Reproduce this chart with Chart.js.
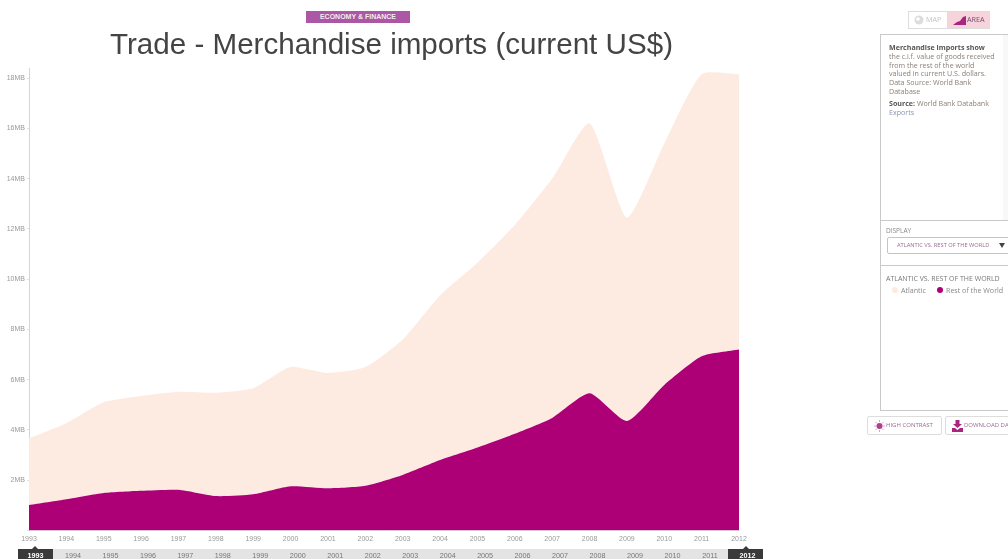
<!DOCTYPE html>
<html>
<head>
<meta charset="utf-8">
<title>Trade - Merchandise imports</title>
<script src="https://cdn.jsdelivr.net/npm/chart.js@4"></script>
<style>
html, body { margin: 0; padding: 0; background: #fff; overflow: hidden; }
body { width: 1008px; height: 559px; position: relative; font-family: "Open Sans", sans-serif; color: #777; }
canvas { position: absolute; left: 0; top: 0; }
.abs { position: absolute; white-space: nowrap; }
#tag { left: 306px; top: 11px; width: 104px; height: 12px; line-height: 12px; background: #ab57a5; color: #eee; font: bold 7px/12px "Liberation Sans", sans-serif; text-align: center; }
#title { left: 0; top: 24px; width: 783px; text-align: center; font: 29.6px/40px "Liberation Sans", sans-serif; color: #444; margin: 0; }
#toggle { left: 908px; top: 11px; width: 82px; height: 18px; border: 1px solid #ddd; box-sizing: border-box; font-size: 7.2px; line-height: 15px; }
#toggle .map { position: absolute; left: 0; top: 0; width: 38px; height: 16px; color: #c4c4c4; }
#toggle .area { position: absolute; left: 38px; top: 0; width: 42px; height: 16px; background: #f7d3dc; color: #7a4a70; border-left: 1px solid #ddd; box-sizing: border-box; }
#toggle svg { position: absolute; left: 5px; top: 3px; }
#toggle span { position: absolute; left: 17px; top: 0; }
#toggle .area span { left: 19px; }
#panel { left: 880px; top: 34px; width: 140px; height: 377px; border: 1px solid #c9c9c9; box-sizing: border-box; }
#desc { left: 889px; top: 43px; width: 108px; white-space: normal; font-size: 7.1px; line-height: 8.8px; color: #8a8078; }
#desc b { color: #555; }
#desc p { margin: 0 0 3px 0; }
#desc a { color: #8a93b5; text-decoration: none; }
#scroll { left: 1003px; top: 35px; width: 5px; height: 185px; background: #f8f8f8; }
.rule { left: 881px; width: 127px; height: 1px; background: #c9c9c9; }
#displayLabel { left: 886px; top: 226px; font-size: 6.5px; color: #888; }
#select { left: 887px; top: 237px; width: 130px; height: 17px; border: 1px solid #c4c4c4; border-radius: 2px; box-sizing: border-box; font-size: 5.7px; line-height: 15px; padding-left: 9px; color: #9a6a95; }
#arrow { left: 999px; top: 243px; width: 0; height: 0; border-left: 3px solid transparent; border-right: 3px solid transparent; border-top: 5px solid #444; }
#legendTitle { left: 886px; top: 274px; font-size: 7px; color: #777; }
.legItem { top: 285px; font-size: 7.1px; color: #888; }
.dot { position: absolute; width: 6px; height: 6px; border-radius: 50%; }
.btn { top: 416px; height: 19px; border: 1px solid #ddd; border-radius: 2px; box-sizing: border-box; font-size: 6px; line-height: 17px; color: #9a6a95; overflow: hidden; }
.btn svg { position: absolute; left: 6px; top: 3px; }
.btn span { position: absolute; left: 18px; top: 0; }
#strip { left: 18px; top: 549px; width: 745px; height: 10px; background: #e4e4e4; }
.handle { top: 549px; width: 35px; height: 10px; background: #3a3a3a; }
.stripYear { top: 551px; width: 30px; text-align: center; font: 7.2px/10px "Liberation Sans", sans-serif; color: #777; }
.stripYear.on { color: #fff; font-weight: bold; }
.notch { top: 546px; width: 0; height: 0; border-left: 3px solid transparent; border-right: 3px solid transparent; border-bottom: 3px solid #3a3a3a; }
</style>
</head>
<body>
<canvas id="tradeChart" width="1008" height="559"></canvas>

<div id="tag" class="abs">ECONOMY &amp; FINANCE</div>
<h1 id="title" class="abs">Trade - Merchandise imports (current US$)</h1>

<div id="toggle" class="abs">
  <div class="map">
    <svg width="10" height="10"><circle cx="5" cy="5" r="4.5" fill="#dcdcdc"/><circle cx="4" cy="4" r="1.8" fill="#fff"/></svg>
    <span>MAP</span>
  </div>
  <div class="area">
    <svg width="13" height="10"><path d="M0 10 L4 7 L7 6 L10 2 L13 1 L13 10 Z" fill="#a8267f"/></svg>
    <span>AREA</span>
  </div>
</div>

<div id="panel" class="abs"></div>
<div id="scroll" class="abs"></div>
<div id="desc" class="abs">
  <p><b>Merchandise imports show</b><br>the c.i.f. value of goods received<br>from the rest of the world<br>valued in current U.S. dollars.<br>Data Source: World Bank<br>Database</p>
  <p><b>Source:</b> World Bank Databank<br><a href="#">Exports</a></p>
</div>
<div class="abs rule" style="top:220px"></div>
<div id="displayLabel" class="abs">DISPLAY</div>
<div id="select" class="abs">ATLANTIC VS. REST OF THE WORLD</div>
<div id="arrow" class="abs"></div>
<div class="abs rule" style="top:265px"></div>
<div id="legendTitle" class="abs">ATLANTIC VS. REST OF THE WORLD</div>
<div id="legend"></div>

<div class="abs btn" style="left:867px;width:75px">
  <svg width="11" height="12"><circle cx="5.5" cy="6" r="3" fill="#b0408f"/><path d="M5.5 0V2M5.5 10V12M0 6H2M9 6H11M1.5 2L3 3.5M8 8.5L9.5 10M1.5 10L3 8.5M8 3.5L9.5 2" stroke="#d9a0cc" stroke-width="1"/></svg>
  <span>HIGH CONTRAST</span>
</div>
<div class="abs btn" style="left:945px;width:80px">
  <svg width="11" height="12"><path d="M3.5 0H7.5V4H10L5.5 8L1 4H3.5Z M0 8H3L5.5 10L8 8H11V12H0Z" fill="#a8267f"/></svg>
  <span>DOWNLOAD DATA</span>
</div>

<div id="strip" class="abs"></div>
<div class="abs handle" style="left:18px"></div>
<div class="abs handle" style="left:728px"></div>
<div class="abs notch" style="left:32px"></div>
<div class="abs notch" style="left:743px"></div>
<div id="stripYears"></div>

<script>
const years = ['1993', '1994', '1995', '1996', '1997', '1998', '1999', '2000', '2001', '2002',
    '2003', '2004', '2005', '2006', '2007', '2008', '2009', '2010', '2011', '2012'];

// values in "MB" as the axis labels them
const restOfWorld = [1.01, 1.24, 1.49, 1.58, 1.62, 1.37, 1.44, 1.76, 1.68, 1.78,
    2.21, 2.8, 3.3, 3.85, 4.48, 5.46, 4.36, 5.79, 6.93, 7.2];
const atlantic = [2.66, 3.03, 3.61, 3.77, 3.9, 4.11, 4.22, 4.74, 4.59, 4.72,
    5.39, 6.55, 7.35, 8.3, 9.52, 10.74, 8.09, 9.61, 11.22, 10.95];

const restColor = '#ad0076';
const atlanticColor = '#fdebe1';
const tickFont = { family: '"Liberation Sans", sans-serif', size: 7 };

const data = {
    labels: years,
    datasets: [{
        label: 'Rest of the World',
        data: restOfWorld,
        backgroundColor: restColor,
        borderWidth: 0,
        fill: 'origin',
        pointRadius: 0,
        tension: 0.2
    }, {
        label: 'Atlantic',
        data: atlantic,
        backgroundColor: atlanticColor,
        borderWidth: 0,
        fill: '-1',
        pointRadius: 0,
        tension: 0.2
    }]
};

const config = {
    type: 'line',
    data: data,
    options: {
        responsive: false,
        animation: false,
        layout: { padding: { left: 0, top: 68, right: 269, bottom: 0 } },
        plugins: { legend: { display: false }, tooltip: { enabled: false } },
        scales: {
            x: {
                stacked: true,
                grid: { display: false, drawTicks: false },
                border: { color: '#e0e0e0' },
                afterFit: function(scale) { scale.height = 28.5; },
                ticks: { color: '#999', font: tickFont, maxRotation: 0, autoSkip: false, padding: 4 }
            },
            y: {
                stacked: true,
                min: 0,
                max: 18.4,
                grid: { drawOnChartArea: false, color: '#dde2e6', tickLength: 2 },
                border: { color: '#cfd6dc' },
                afterFit: function(scale) { scale.width = 29; },
                // the axis runs a little past 18MB but has no tick there
                afterBuildTicks: function(scale) {
                    scale.ticks = scale.ticks.filter(function(t) { return t.value % 2 === 0; });
                },
                ticks: {
                    stepSize: 2,
                    color: '#999',
                    font: tickFont,
                    padding: 2,
                    callback: function(v) { return v === 0 ? '' : v + 'MB'; }
                }
            }
        }
    }
};

window.onload = function() {
    const ctx = document.getElementById('tradeChart').getContext('2d');
    new Chart(ctx, config);

    // timeline strip under the axis
    const strip = document.getElementById('stripYears');
    years.forEach(function(y, i) {
        const s = document.createElement('div');
        s.className = 'abs stripYear' + (i === 0 || i === years.length - 1 ? ' on' : '');
        s.style.left = (20.5 + i * 37.47) + 'px';
        s.textContent = y;
        strip.appendChild(s);
    });

    // legend, Atlantic first like the original
    const legend = document.getElementById('legend');
    [[data.datasets[1], 892], [data.datasets[0], 937]].forEach(function(item) {
        const d = document.createElement('div');
        d.className = 'abs dot';
        d.style.left = item[1] + 'px';
        d.style.top = '287px';
        d.style.background = item[0].backgroundColor;
        legend.appendChild(d);
        const t = document.createElement('div');
        t.className = 'abs legItem';
        t.style.left = (item[1] + 9) + 'px';
        t.textContent = item[0].label;
        legend.appendChild(t);
    });
};
</script>
</body>
</html>
